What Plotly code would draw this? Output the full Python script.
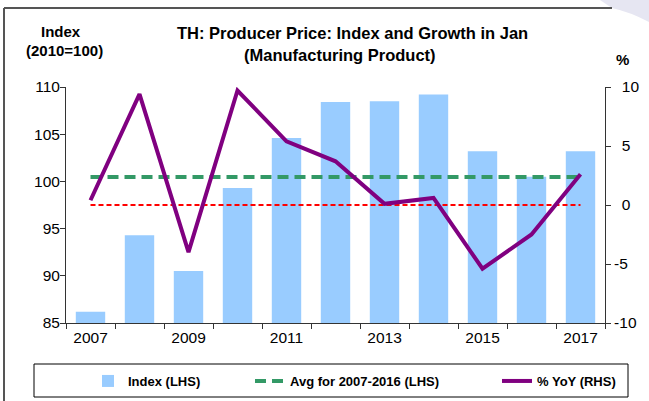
import plotly.graph_objects as go

years = ["2007", "2008", "2009", "2010", "2011", "2012", "2013", "2014", "2015", "2016", "2017"]
index_vals = [86.2, 94.3, 90.5, 99.3, 104.6, 108.4, 108.5, 109.2, 103.2, 100.5, 103.2]
yoy_vals = [0.4, 9.4, -4.0, 9.7, 5.4, 3.7, 0.1, 0.6, -5.4, -2.5, 2.6]
left_ticks = [85, 90, 95, 100, 105, 110]
right_ticks = [-10, -5, 0, 5, 10]
avg_val = sum(index_vals[:10]) / 10
avg_vals = [avg_val] * len(years)
zero_vals = [0] * len(years)
tick_text = [y if i % 2 == 0 else "" for i, y in enumerate(years)]
right_text = [str(v) if v < 0 else "\u2002" + str(v) for v in right_ticks]

W, H = 649, 401
L, R, T, B = 66, 605, 87, 323


def px(x):
    return (x - L) / (R - L)


def py(y):
    return (B - y) / (B - T)


FONT = "Liberation Sans, Arial, sans-serif"

fig = go.Figure()
fig.add_trace(go.Bar(x=years, y=index_vals, name="Index (LHS)",
                     marker=dict(color="#99CCFF", line=dict(width=0)), yaxis="y",
                     legend="legend"))
fig.add_trace(go.Scatter(x=years, y=avg_vals, name="Avg for 2007-2016 (LHS)", mode="lines",
                         line=dict(color="#339966", width=4, dash="11px,6px"), yaxis="y",
                         legend="legend2"))
fig.add_trace(go.Scatter(x=years, y=zero_vals, showlegend=False, mode="lines",
                         line=dict(color="#FF0000", width=2, dash="5px,3px"), yaxis="y2",
                         hoverinfo="skip"))
fig.add_trace(go.Scatter(x=years, y=yoy_vals, name="% YoY (RHS)", mode="lines",
                         line=dict(color="#800080", width=4), yaxis="y2",
                         legend="legend3"))

axis_common = dict(showgrid=False, zeroline=False, showline=True, linecolor="#333333",
                   linewidth=1, ticks="outside", ticklen=5, tickcolor="#333333",
                   tickfont=dict(family=FONT, size=15.5, color="#000000"))

leg_common = dict(orientation="h", yanchor="middle", xanchor="left", bgcolor="rgba(0,0,0,0)",
                  borderwidth=0, font=dict(family=FONT, size=13, color="#000000", weight="bold"),
                  itemwidth=30)

fig.update_layout(
    width=W, height=H,
    margin=dict(l=L, r=W - R, t=T, b=H - B, pad=0, autoexpand=False),
    paper_bgcolor="white", plot_bgcolor="white",
    bargap=0.4,
    showlegend=True,
    xaxis=dict(type="category", tickson="boundaries", tickvals=years, ticktext=tick_text,
               **axis_common),
    yaxis=dict(range=[85, 110], tickvals=left_ticks, side="left", ticklabelstandoff=-3,
               **axis_common),
    yaxis2=dict(range=[-10, 10], tickvals=right_ticks, ticktext=right_text, side="right",
                overlaying="y", **axis_common),
    legend=dict(x=px(88), y=py(381), **leg_common),
    legend2=dict(x=px(250), y=py(381), **leg_common),
    legend3=dict(x=px(497), y=py(381), **leg_common),
    font=dict(family=FONT),
)

annots = [
    dict(text="<b>TH: Producer Price: Index and Growth in Jan</b>", x=px(352), y=py(33), size=16.5),
    dict(text="<b>(Manufacturing Product)</b>", x=px(340), y=py(55), size=16.5),
    dict(text="<b>Index</b>", x=px(61), y=py(32), size=15),
    dict(text="<b>(2010=100)</b>", x=px(64), y=py(51), size=15),
    dict(text="<b>%</b>", x=px(622), y=py(59), size=15),
]
for a in annots:
    fig.add_annotation(text=a["text"], x=a["x"], y=a["y"], xref="paper", yref="paper",
                       xanchor="center", yanchor="middle", showarrow=False,
                       font=dict(family=FONT, size=a["size"], color="#000000"))

# legend box
fig.add_shape(type="rect", xref="paper", yref="paper", x0=px(34), y0=py(364), x1=px(628), y1=py(397),
              line=dict(color="#000000", width=1), fillcolor="white", layer="above")

# outer frame and decoration
fig.add_shape(type="path", xref="paper", yref="paper",
              path=f"M {px(600)},{py(0)} L {px(649)},{py(0)} L {px(649)},{py(22)} Q {px(630)},{py(12)} {px(612)},{py(8)} Z",
              fillcolor="#E6E6F2", line=dict(width=0), layer="below")
fig.add_shape(type="line", xref="paper", yref="paper", x0=px(4), y0=py(8), x1=px(4), y1=py(401),
              line=dict(color="#555555", width=2))
fig.add_shape(type="line", xref="paper", yref="paper", x0=px(4), y0=py(8), x1=px(612), y1=py(8),
              line=dict(color="#555555", width=2))

fig.write_html("out.html", config={"displayModeBar": False},
               post_script="document.body.style.margin='0px';")
